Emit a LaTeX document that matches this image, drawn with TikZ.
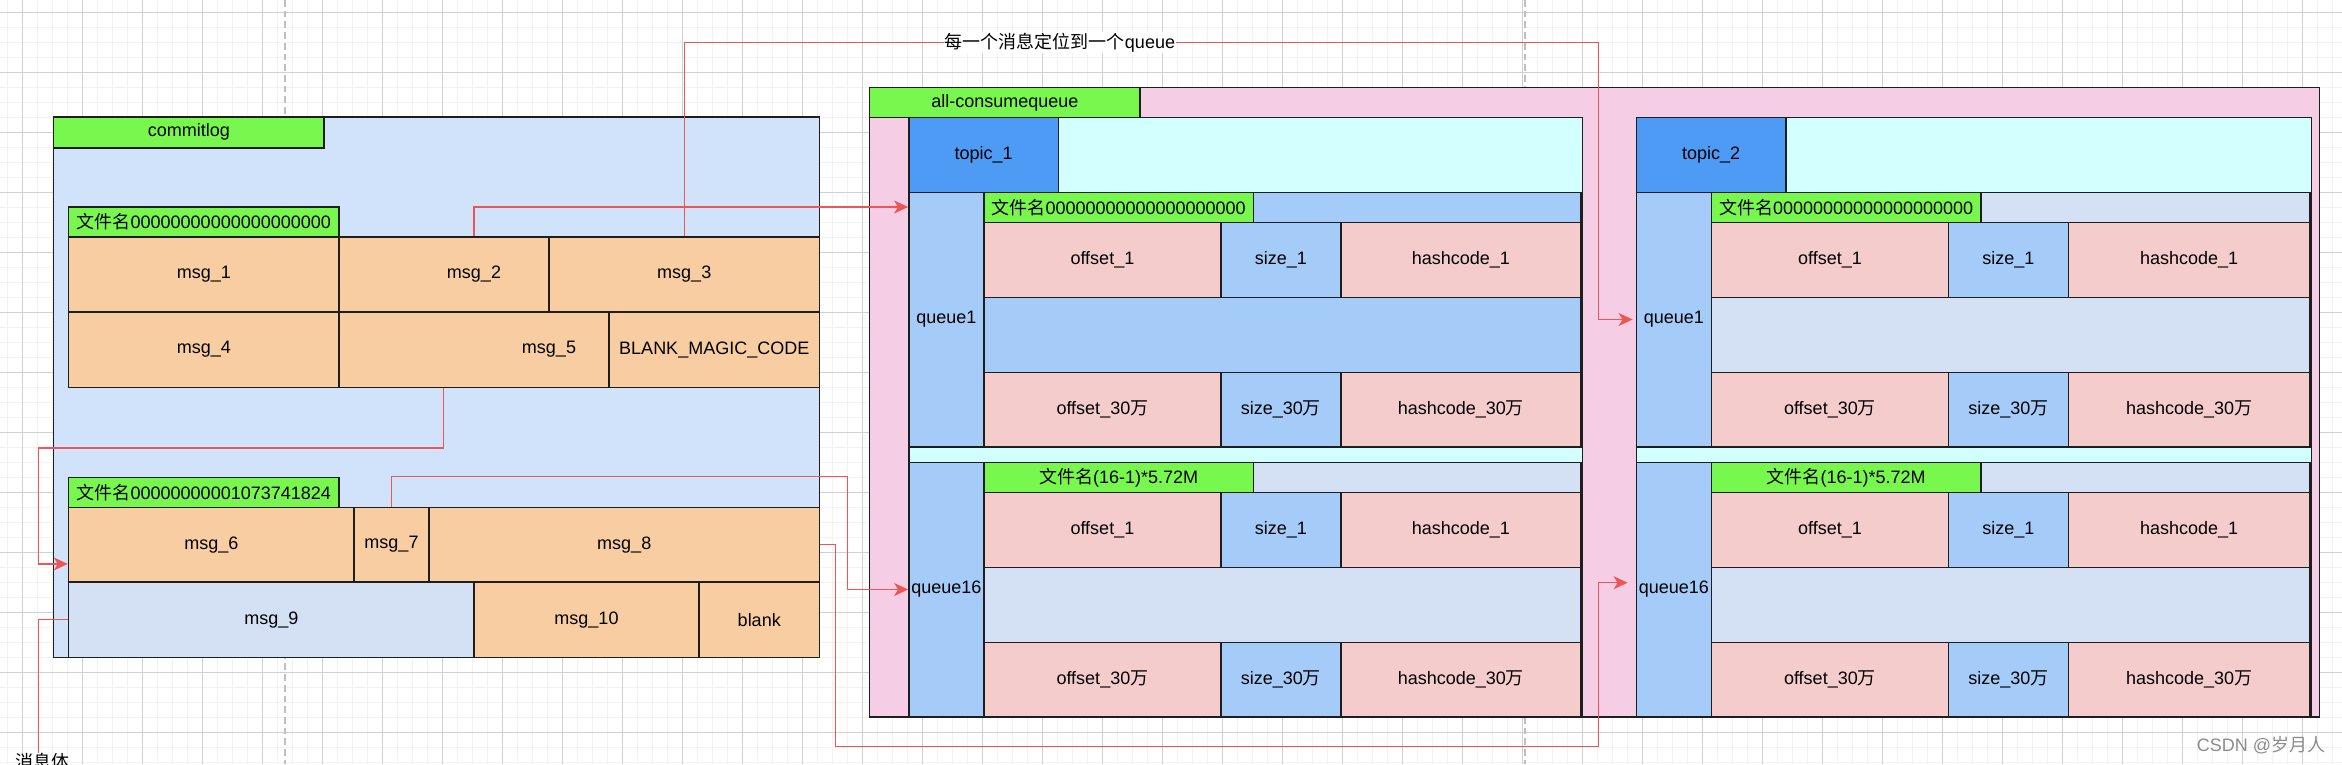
\documentclass[tikz,border=0pt]{standalone}
\usepackage{fontspec}
\setmainfont{Liberation Sans}
\newfontfamily\cjk{Noto Sans CJK SC}
\usepackage{tikz}
\usetikzlibrary{arrows.meta}
\usetikzlibrary{fit}

\newcommand{\zh}[1]{{\cjk #1}}
\newcommand{\lbl}{\fontsize{18}{21}\selectfont}

\definecolor{edge}{HTML}{1E1E1E}
\definecolor{wire}{HTML}{EE5555}
\definecolor{tagc}{HTML}{78F84E}
\definecolor{logc}{HTML}{D0E3FA}
\definecolor{msgc}{HTML}{F7CDA1}
\definecolor{restc}{HTML}{D4E1F5}
\definecolor{pinkc}{HTML}{F5CDE4}
\definecolor{cyanc}{HTML}{D2FFFF}
\definecolor{topicc}{HTML}{4D9BF5}
\definecolor{qc}{HTML}{A5CBF8}
\definecolor{offc}{HTML}{F5CCCC}

\tikzset{
    box/.style={draw=edge, line width=1.6pt, inner sep=0pt},
    txt/.style={label={[font=\lbl, inner sep=0pt]center:#1}},
    link/.style={draw=wire, line width=1.5pt, -{Stealth[length=14pt, width=13pt, inset=4pt]}},
    minor/.style={draw=black!5, line width=1.5pt},
    major/.style={draw=black!18, line width=1pt},
    pagebreak/.style={draw=black!25, line width=2pt, dash pattern=on 6.7pt off 4pt}
}

\begin{document}
\begin{tikzpicture}[x=1pt, y=-1pt]
    \useasboundingbox (0,0) rectangle (2342,764);
    \fill[white] (0,0) rectangle (2342,764);
    \foreach \gx in {7.3,22.3,...,2342}
      {
        \draw[minor] (\gx,0) -- (\gx,764);
      }
    \foreach \gy in {-2.7,12.3,...,770}
      {
        \draw[minor] (0,\gy) -- (2342,\gy);
      }
    \foreach \gx in {22.3,82.3,...,2342}
      {
        \draw[major] (\gx,0) -- (\gx,764);
      }
    \foreach \gy in {12.3,72.3,...,770}
      {
        \draw[major] (0,\gy) -- (2342,\gy);
      }
    \foreach \px in {285,1525}
      {
        \draw[pagebreak] (\px,0) -- (\px,764);
      }

    \node[box, fill=logc, fit={(53.6,116.7) (819.5,657.3)}] (commitlog) {};
    \node[box, fill=tagc, txt=commitlog, fit={(53.6,116.7) (324,147.7)}] (logtag) {};
    \node[box, fill=tagc, txt={\zh{文件名}00000000000000000000}, fit={(68.6,207) (339,237)}] (file1) {};
    \node[box, fill=msgc, txt={msg\_1}, fit={(68.6,237) (339,311.7)}] (msg1) {};
    \node[box, fill=msgc, txt={msg\_2}, fit={(339,237) (609,311.7)}] (msg2) {};
    \node[box, fill=msgc, txt={msg\_3}, fit={(549,237) (819.5,311.7)}] (msg3) {};
    \node[box, fill=msgc, txt={msg\_4}, fit={(68.6,311.7) (339,387.3)}] (msg4) {};
    \node[box, fill=msgc, txt={msg\_5}, fit={(339,311.7) (759,387.3)}] (msg5) {};
    \node[box, fill=msgc, txt={BLANK\_MAGIC\_CODE}, fit={(609,311.7) (819.5,387.3)}] (magic) {};
    \node[box, fill=tagc, txt={\zh{文件名}00000000001073741824}, fit={(68.6,477.3) (339,507.3)}] (file2) {};
    \node[box, fill=msgc, txt={msg\_6}, fit={(68.6,507.3) (354,582)}] (msg6) {};
    \node[box, fill=msgc, txt={msg\_7}, fit={(354,507.3) (429,582)}] (msg7) {};
    \node[box, fill=msgc, txt={msg\_8}, fit={(429,507.3) (819.5,582)}] (msg8) {};
    \node[box, fill=restc, txt={msg\_9}, fit={(68.6,582) (474,657.3)}] (msg9) {};
    \node[box, fill=msgc, txt={msg\_10}, fit={(474,582) (699,657.3)}] (msg10) {};
    \node[box, fill=msgc, txt=blank, fit={(699,582) (819.5,657.3)}] (blank) {};

    \node[box, fill=pinkc, fit={(869.6,87.5) (2319.5,716.7)}] (allcq) {};
    \node[box, fill=tagc, txt=all-consumequeue, fit={(869.6,87.5) (1140,117.3)}] (cqtag) {};
    \foreach \x/\r/\t in {908.9/1582.3/1, 1636.4/2311.3/2}
      {
        \node[box, fill=cyanc, fit={(\x,117.5) (\r,716.7)}] (topic\t) {};
        \node[box, fill=topicc, txt={topic\_\t}, fit={(\x,117.5) ({\x+149.5},192.3)}] (tname\t) {};
      }
    \foreach \x/\r/\t/\y/\q/\c/\fname in {908.9/1582.3/1/192.3/1/qc/{\zh{文件名}00000000000000000000},
        908.9/1582.3/1/462.3/16/restc/{\zh{文件名}(16-1)*5.72M},
        1636.4/2311.3/2/192.3/1/restc/{\zh{文件名}00000000000000000000},
        1636.4/2311.3/2/462.3/16/restc/{\zh{文件名}(16-1)*5.72M}}
      {
        \node[box, fill=qc, txt={queue\q}, fit={(\x,\y) ({\x+75},{\y+254.4})}] (q\t-\q) {};
        \node[box, fill=\c, fit={({\x+75},\y) ({\r-1.5},{\y+30})}] (h\t-\q) {};
        \node[box, fill=tagc, txt={\fname}, fit={({\x+75},\y) ({\x+344.5},{\y+30})}] (f\t-\q) {};
        \node[box, fill=offc, txt={offset\_1}, fit={({\x+75},{\y+30}) ({\x+312},{\y+105})}] (o\t-\q-a) {};
        \node[box, fill=qc, txt={size\_1}, fit={({\x+312},{\y+30}) ({\x+432},{\y+105})}] (s\t-\q-a) {};
        \node[box, fill=offc, txt={hashcode\_1}, fit={({\x+432},{\y+30}) ({\r-1.5},{\y+105})}] (c\t-\q-a) {};
        \node[box, fill=\c, fit={({\x+75},{\y+105}) ({\r-1.5},{\y+180})}] (m\t-\q) {};
        \node[box, fill=offc, txt={offset\_30\zh{万}}, fit={({\x+75},{\y+180}) ({\x+312},{\y+254.4})}] (o\t-\q-b) {};
        \node[box, fill=qc, txt={size\_30\zh{万}}, fit={({\x+312},{\y+180}) ({\x+432},{\y+254.4})}] (s\t-\q-b) {};
        \node[box, fill=offc, txt={hashcode\_30\zh{万}}, fit={({\x+432},{\y+180}) ({\r-1.5},{\y+254.4})}] (c\t-\q-b) {};
      }

    \node[font=\lbl, inner sep=0pt, anchor=north] (body) at (42,753) {\zh{消息体}};
    \node[font=\lbl, text=black!45, inner sep=0pt] (mark) at (2261,745) {CSDN @\zh{岁月人}};

    \draw[link] (msg2.north) |- ([yshift=-15.5pt]q1-1.north west);
    \draw[link] (msg3.north) |- (1598.7,42.3) |- ([xshift=-3pt]q2-1.west);
    \draw[link] ([xshift=-105.5pt]msg5.south) -- ++(0,60) -- ++(-404.9,0) |- ([yshift=-19.3pt]msg6.west);
    \draw[link] (msg7.north) -- ++(0,-30) -- ++(456.2,0) |- (q1-16.west);
    \draw[link] (msg8.east) -- ++(15,0) |- (1598.7,746.7) |- ([yshift=6.8pt,xshift=-8pt]q2-16.west);
    \draw[link, -] (msg9.west) -| ([xshift=-3.5pt]body.north);
    \node[font=\lbl, fill=white, inner sep=1pt] (note) at (1060,42.3) {\zh{每一个消息定位到一个}queue};
\end{tikzpicture}
\end{document}
